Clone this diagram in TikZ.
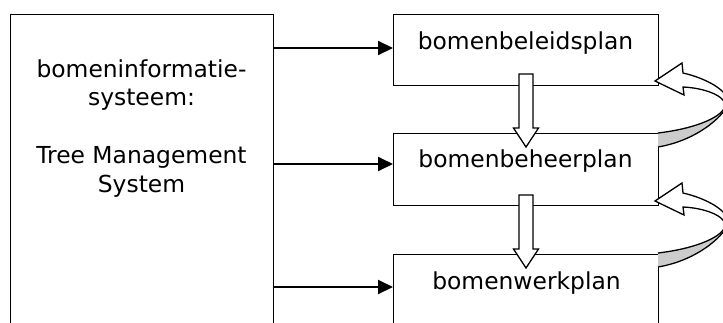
\documentclass[tikz,border=0pt]{standalone}
\usepackage{fontspec}
\setmainfont{DejaVu Sans}
\usetikzlibrary{arrows.meta,calc}
\tikzset{
  boxnode/.style={draw, line width=1.4pt, anchor=north west, inner sep=0pt, fill=white},
  lbl/.style={anchor=base, inner sep=0pt, font=\fontsize{23.4}{28.7}\selectfont},
  harrow/.style={line width=2pt, -{Triangle[length=15pt,width=14pt]}, shorten >=0pt},
  downarr/.pic={\draw[fill=white, line width=1.3pt, line join=miter]
      (-7,0) -- (-7,54) -- (-12.5,54) -- (0,73) -- (12.5,54) -- (7,54) -- (7,0) -- cycle;},
  looparr/.pic={
    \fill[gray!40] (70,24) .. controls (70,34) and (45,47) .. (3,52) -- (3,66)
        .. controls (45,59) and (73,31) .. (73,21) -- cycle;
    \draw[line width=1.3pt] (70,24) .. controls (70,34) and (45,47) .. (3,52);
    \draw[line width=1.3pt] (3,66) .. controls (45,59) and (73,31) .. (73,21);
    \filldraw[fill=white, line width=1.3pt, line join=miter]
      (0,0) -- (27,-18) -- (28,-8) .. controls (50,-3) and (73,9) .. (73,21)
      -- (70,24) .. controls (70,15) and (50,7) .. (28,6) -- (29,14) -- cycle;}
}
\begin{document}
\begin{tikzpicture}[x=1pt,y=-1pt]
\useasboundingbox (0,0) rectangle (723,322);
\clip (0,0) rectangle (723,322);
\node[boxnode, minimum width=263pt, minimum height=340pt] (sys) at (10,14) {};
\node[boxnode, minimum width=265pt, minimum height=71pt] (b1) at (393,14) {};
\node[boxnode, minimum width=265pt, minimum height=72pt] (b2) at (393,133) {};
\node[boxnode, minimum width=265pt, minimum height=100pt] (b3) at (393,254) {};
\node[lbl, align=center] (systxt) at (141.5,192)
  {bomeninformatie-\\systeem:\\[28.7pt]Tree Management\\System};
\node[lbl] (t1) at (525.5,49) {bomenbeleidsplan};
\node[lbl] (t2) at (525.5,167) {bomenbeheerplan};
\node[lbl] (t3) at (526.5,289) {bomenwerkplan};
\coordinate (h1) at (0,48);
\coordinate (h2) at (0,164);
\coordinate (h3) at (0,287);
\draw[harrow] (sys.east |- h1) -- (b1.west |- h1);
\draw[harrow] (sys.east |- h2) -- (b2.west |- h2);
\draw[harrow] (sys.east |- h3) -- (b3.west |- h3);
\pic at (526,74) {downarr};
\pic at (526,195) {downarr};
\pic at (655,81) {looparr};
\pic at (655,201) {looparr};
\end{tikzpicture}
\end{document}
